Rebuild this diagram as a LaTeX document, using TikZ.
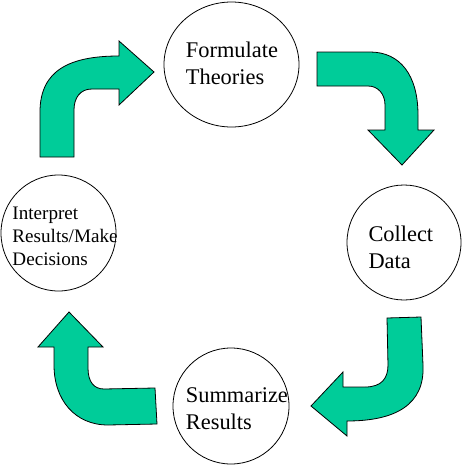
\documentclass[tikz,border=0pt]{standalone}
\usepackage{fontspec}
\setmainfont{Liberation Serif}
\usetikzlibrary{shapes.geometric}
\definecolor{arrowgreen}{RGB}{0,204,153}
\tikzset{
  stage/.style={draw=black, line width=0.8pt, ellipse, inner sep=0pt, outer sep=0pt},
  bigtext/.style={font=\fontsize{22.4}{27}\selectfont, align=left, anchor=base west, inner sep=0pt},
  smalltext/.style={font=\fontsize{19.1}{23}\selectfont, align=left, anchor=base west, inner sep=0pt},
  bentarrow/.style={fill=arrowgreen, draw=black, line width=0.8pt, line join=miter}
}
\begin{document}
\begin{tikzpicture}[x=1pt,y=-1pt]
\useasboundingbox (0,0) rectangle (461,466);
% circles
\node[stage, minimum width=135pt, minimum height=125pt] (formulate) at (231.5,64.5) {};
\node[stage, minimum width=114pt, minimum height=115pt] (collect) at (404,242.5) {};
\node[stage, minimum width=115pt, minimum height=116pt] (interpret) at (58.5,233) {};
\node[stage, minimum width=116pt, minimum height=116pt] (summarize) at (231,406) {};
% texts (anchor = baseline of the last line)
\node[bigtext] (tformulate) at (185.7,84.3) {Formulate\\Theories};
\node[bigtext] (tcollect) at (368.3,268.3) {Collect\\Data};
\node[bigtext] (tsummarize) at (185.7,429.3) {Summarize\\Results};
\node[smalltext] (tinterpret) at (12.3,265) {Interpret\\Results/Make\\Decisions};
% arrows
\draw[bentarrow] (40,157) -- (40,112) .. controls (40,70) and (70,56) .. (119,56)
  -- (119,41) -- (154,72) -- (119,105) -- (119,89) -- (92,89)
  .. controls (80,89) and (74,98) .. (74,110) -- (74,157) -- cycle;
\draw[bentarrow] (317,52) -- (370,52) .. controls (400,52) and (418,75) .. (418,115)
  -- (418,130) -- (434,130) -- (402,165) -- (368,130) -- (385,130) -- (385,105)
  .. controls (385,94) and (378,86) .. (368,86) -- (317,86) -- cycle;
\draw[bentarrow] (387,318) -- (421,317) -- (423,365) .. controls (425,405) and (395,421) .. (347,421)
  -- (347,436) -- (311,406) -- (343,372) -- (343,387) -- (365,387)
  .. controls (382,387) and (388,378) .. (388,365) -- cycle;
\draw[bentarrow] (157,424) -- (108,425) .. controls (75,425) and (54,400) .. (54,365)
  -- (54,347) -- (38,347) -- (69,312) -- (103,347) -- (88,347) -- (88,368)
  .. controls (88,382) and (94,389) .. (104,389) -- (155,388) -- cycle;
\end{tikzpicture}
\end{document}
